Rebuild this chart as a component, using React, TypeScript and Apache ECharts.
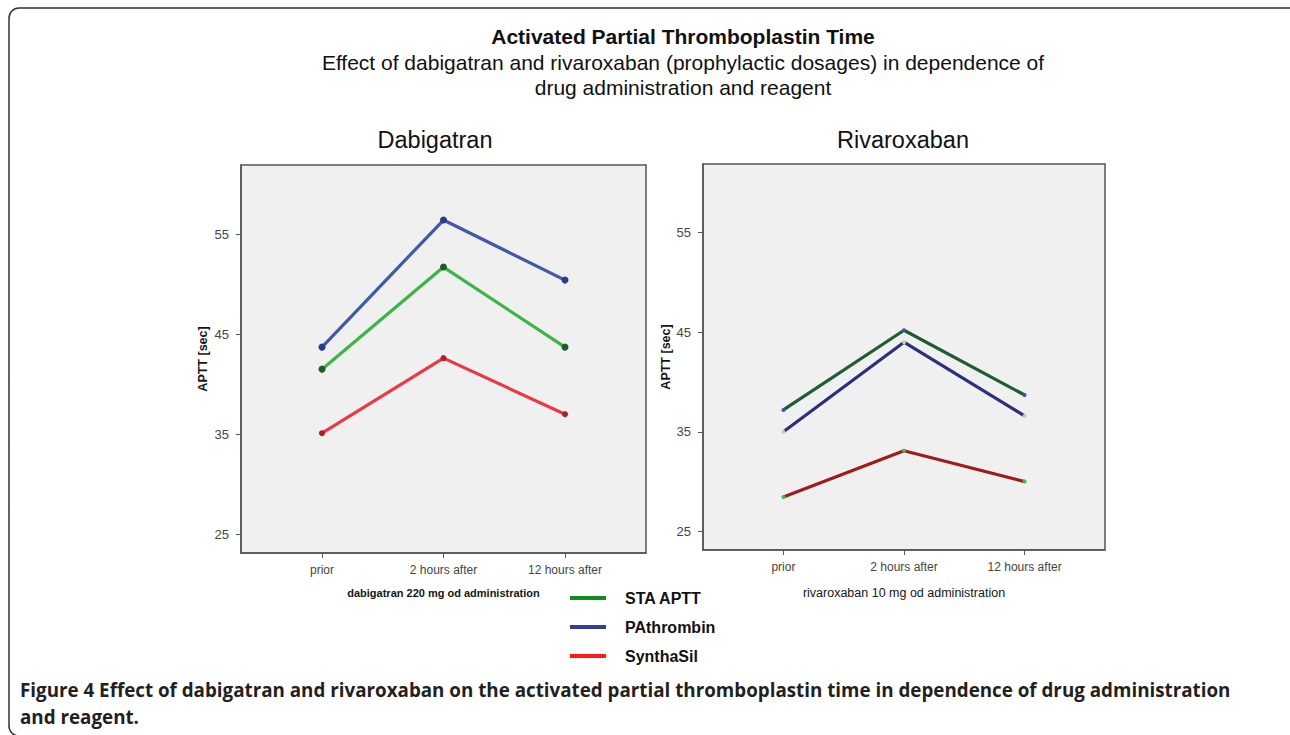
import React, { useEffect, useRef } from "react";
import * as echarts from "echarts";

const categories = ["prior", "2 hours after", "12 hours after"];
const yTicks = [25, 35, 45, 55];
const seriesNames = ["STA APTT", "PAthrombin", "SynthaSil"];

// Dabigatran panel
const dabiSTA = [41.5, 51.7, 43.7];
const dabiPAthrombin = [43.7, 56.4, 50.4];
const dabiSynthaSil = [35.1, 42.6, 37.0];

// Rivaroxaban panel
const rivaSTA = [37.2, 45.2, 38.7];
const rivaPAthrombin = [35.0, 44.0, 36.6];
const rivaSynthaSil = [28.45, 33.1, 30.0];

const FONT = "'Liberation Sans', Arial, sans-serif";

export default function App() {
  const ref = useRef<HTMLDivElement>(null);

  useEffect(() => {
    if (!ref.current) return;
    const chart = echarts.init(ref.current, undefined, { renderer: "svg" });

    const toPts = (arr: number[]) => arr.map((v, i) => [i, v]);

    const xAxisBase = (
      gridIndex: number,
      name: string,
      nameWeight: string,
      nameSize: number,
      nameGap: number
    ) => ({
      type: "value",
      gridIndex,
      min: -2 / 3,
      max: 8 / 3,
      name,
      nameLocation: "middle",
      nameGap,
      nameTextStyle: { fontFamily: FONT, fontSize: nameSize, fontWeight: nameWeight, color: "#161616" },
      axisLine: { show: true, onZero: false, lineStyle: { color: "#555", width: 1.5 } },
      axisTick: { show: true, customValues: [0, 1, 2], length: 5, lineStyle: { color: "#555" } },
      axisLabel: {
        customValues: [0, 1, 2],
        formatter: (v: number) => categories[Math.round(v)] ?? "",
        fontFamily: FONT,
        fontSize: 12,
        color: "#444",
        margin: 11,
      },
      splitLine: { show: false },
    });

    const yAxisBase = (gridIndex: number, nameGap: number) => ({
      type: "value",
      gridIndex,
      min: 23.13,
      max: 61.9,
      name: "APTT [sec]",
      nameLocation: "middle",
      nameRotate: 90,
      nameGap,
      nameTextStyle: { fontFamily: FONT, fontSize: 12.5, fontWeight: "bold", color: "#161616" },
      axisLine: { show: true, onZero: false, lineStyle: { color: "#555", width: 1.5 } },
      axisTick: { show: true, customValues: yTicks, length: 5, lineStyle: { color: "#555" } },
      axisLabel: {
        customValues: yTicks,
        fontFamily: FONT,
        fontSize: 13,
        color: "#444",
        margin: 12,
      },
      splitLine: { show: false },
    });

    const line = (
      name: string,
      idx: number,
      data: number[],
      lineColor: string,
      markerColor: string,
      size: number
    ) => ({
      type: "line",
      name,
      xAxisIndex: idx,
      yAxisIndex: idx,
      data: toPts(data),
      symbol: "circle",
      symbolSize: size,
      showSymbol: true,
      lineStyle: { color: lineColor, width: 3.2 },
      itemStyle: { color: markerColor },
      emphasis: { disabled: true },
    });

    chart.setOption({
      animation: false,
      backgroundColor: "#ffffff",
      grid: [
        {
          left: 241,
          top: 165,
          width: 405,
          height: 388,
          show: true,
          backgroundColor: "#f0f0f0",
          borderColor: "#555",
          borderWidth: 1.5,
        },
        {
          left: 703,
          top: 164,
          width: 402,
          height: 386,
          show: true,
          backgroundColor: "#f0f0f0",
          borderColor: "#555",
          borderWidth: 1.5,
        },
      ],
      xAxis: [
        xAxisBase(0, "dabigatran 220 mg od administration", "bold", 11, 34),
        xAxisBase(1, "rivaroxaban 10 mg od administration", "normal", 12.5, 36),
      ],
      yAxis: [yAxisBase(0, 32), yAxisBase(1, 30)],
      legend: {
        orient: "vertical",
        left: 570,
        top: 590,
        padding: 0,
        itemGap: 13,
        itemWidth: 36,
        itemHeight: 4,
        icon: "rect",
        selectedMode: false,
        textStyle: {
          fontFamily: FONT,
          fontSize: 16,
          fontWeight: "bold",
          color: "#111",
          padding: [0, 0, 0, 14],
        },
        data: [
          { name: seriesNames[0], itemStyle: { color: "#138a1e" } },
          { name: seriesNames[1], itemStyle: { color: "#3a3c9c" } },
          { name: seriesNames[2], itemStyle: { color: "#ff1a1a" } },
        ],
      },
      series: [
        line(seriesNames[0], 0, dabiSTA, "#3cb446", "#1b5e2c", 7),
        line(seriesNames[1], 0, dabiPAthrombin, "#4258a8", "#2b3a8c", 7),
        line(seriesNames[2], 0, dabiSynthaSil, "#ea3a44", "#b01e2a", 6),
        line(seriesNames[0], 1, rivaSTA, "#1f5c32", "#3557c4", 4),
        line(seriesNames[1], 1, rivaPAthrombin, "#2d2f7e", "#d9cc92", 4),
        line(seriesNames[2], 1, rivaSynthaSil, "#9e1c1e", "#3cc04a", 4),
      ],
      graphic: [
        {
          type: "rect",
          shape: { x: 9, y: 8, width: 1310, height: 728, r: 10 },
          style: { fill: "none", stroke: "#333", lineWidth: 1.5 },
          silent: true,
        },
        {
          type: "text",
          x: 683,
          y: 36,
          style: {
            text: "Activated Partial Thromboplastin Time",
            font: `bold 21px ${FONT}`,
            fill: "#111",
            align: "center",
            verticalAlign: "middle",
          },
        },
        {
          type: "text",
          x: 683,
          y: 62,
          style: {
            text: "Effect of dabigatran and rivaroxaban (prophylactic dosages) in dependence of",
            font: `21px ${FONT}`,
            fill: "#111",
            align: "center",
            verticalAlign: "middle",
          },
        },
        {
          type: "text",
          x: 683,
          y: 87,
          style: {
            text: "drug administration and reagent",
            font: `21px ${FONT}`,
            fill: "#111",
            align: "center",
            verticalAlign: "middle",
          },
        },
        {
          type: "text",
          x: 435,
          y: 140,
          style: {
            text: "Dabigatran",
            font: `23.5px ${FONT}`,
            fill: "#111",
            align: "center",
            verticalAlign: "middle",
          },
        },
        {
          type: "text",
          x: 903,
          y: 140,
          style: {
            text: "Rivaroxaban",
            font: `23.5px ${FONT}`,
            fill: "#111",
            align: "center",
            verticalAlign: "middle",
          },
        },
        {
          type: "text",
          x: 20,
          y: 690,
          style: {
            text: "Figure 4 Effect of dabigatran and rivaroxaban on the activated partial thromboplastin time in dependence of drug administration",
            font: `bold 18.8px 'Open Sans', sans-serif`,
            fill: "#231f20",
            align: "left",
            verticalAlign: "middle",
          },
        },
        {
          type: "text",
          x: 20,
          y: 717,
          style: {
            text: "and reagent.",
            font: `bold 18.8px 'Open Sans', sans-serif`,
            fill: "#231f20",
            align: "left",
            verticalAlign: "middle",
          },
        },
      ],
    });

    return () => chart.dispose();
  }, []);

  return (
    <div
      ref={ref}
      style={{ position: "fixed", left: 0, top: 0, width: 1290, height: 735 }}
    />
  );
}
